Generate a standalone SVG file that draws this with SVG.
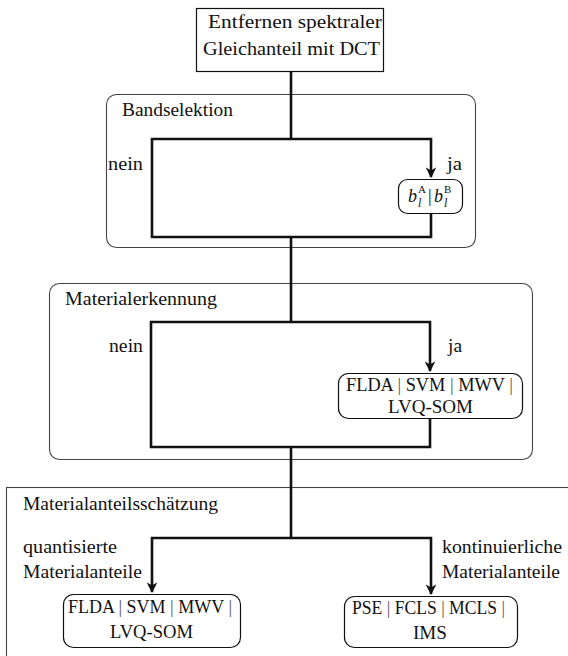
<svg xmlns="http://www.w3.org/2000/svg" width="568" height="656" viewBox="0 0 568 656">
<defs>
<style>
text{font-family:"Liberation Serif","DejaVu Serif",serif;font-size:18px;fill:#111}
.grp{fill:none;stroke:#444;stroke-width:1.1}
.node{fill:#fff;stroke:#111;stroke-width:1.2}
.con{fill:none;stroke:#111;stroke-width:2.6;stroke-linejoin:miter}
.sup{font-size:11px}
.sub{font-size:12px;font-style:italic}
.it{font-style:italic}
.bar{fill:#555}
</style>
<marker id="ah" viewBox="0 0 10 10" refX="9" refY="5" markerWidth="4.2" markerHeight="4.2" orient="auto" markerUnits="strokeWidth">
<path d="M0,0 L10,5 L0,10 L3,5 Z" fill="#111"/>
</marker>
</defs>
<rect width="568" height="656" fill="#fff"/>

<g id="grp-band">
<rect class="grp" x="106.5" y="94.5" width="369" height="153" rx="10"/>
<text x="122" y="116" textLength="111" lengthAdjust="spacingAndGlyphs">Bandselektion</text>
</g>
<g id="grp-mat">
<rect class="grp" x="49.5" y="283.5" width="483" height="176" rx="10"/>
<text x="65" y="305" textLength="152" lengthAdjust="spacingAndGlyphs">Materialerkennung</text>
</g>
<g id="grp-anteil">
<rect class="grp" x="6.5" y="487.5" width="600" height="220"/>
<text x="23" y="510" textLength="195" lengthAdjust="spacingAndGlyphs">Materialanteilsschätzung</text>
</g>

<g id="connectors">
<path class="con" d="M291,71 V139"/>
<path class="con" d="M431,213 V237 H152 V139 H431 V177" marker-end="url(#ah)"/>
<path class="con" d="M291,237 V322"/>
<path class="con" d="M430,418 V447 H151 V322 H430 V371" marker-end="url(#ah)"/>
<path class="con" d="M291,447 V538"/>
<path class="con" d="M291,538 H152 V592" marker-end="url(#ah)"/>
<path class="con" d="M291,538 H431 V594" marker-end="url(#ah)"/>
<text x="108" y="170" textLength="35" lengthAdjust="spacingAndGlyphs">nein</text>
<text x="447" y="170" textLength="15" lengthAdjust="spacingAndGlyphs">ja</text>
<text x="109" y="352" textLength="34" lengthAdjust="spacingAndGlyphs">nein</text>
<text x="448" y="352" textLength="14" lengthAdjust="spacingAndGlyphs">ja</text>
<text x="23" y="553" textLength="94" lengthAdjust="spacingAndGlyphs">quantisierte</text>
<text x="23" y="578" textLength="119" lengthAdjust="spacingAndGlyphs">Materialanteile</text>
<text x="442" y="553" textLength="120" lengthAdjust="spacingAndGlyphs">kontinuierliche</text>
<text x="442" y="578" textLength="118" lengthAdjust="spacingAndGlyphs">Materialanteile</text>
</g>

<g id="node-dct">
<rect class="node" x="196.5" y="8.5" width="187" height="63"/>
<text x="208" y="28" textLength="174" lengthAdjust="spacingAndGlyphs">Entfernen spektraler</text>
<text x="203" y="55" textLength="177" lengthAdjust="spacingAndGlyphs">Gleichanteil mit DCT</text>
</g>

<g id="node-band">
<rect class="node" x="398.5" y="179.5" width="64" height="34" rx="9"/>
<text class="it" x="408" y="202">b</text>
<text class="sup" x="418" y="193">A</text>
<text class="sub" x="418" y="207">l</text>
<text x="428" y="202">|</text>
<text class="it" x="434" y="202">b</text>
<text class="sup" x="444" y="193">B</text>
<text class="sub" x="444" y="207">l</text>
</g>

<g id="node-mat">
<rect class="node" x="338.5" y="373.5" width="184" height="45" rx="10"/>
<text x="346" y="391" textLength="167" lengthAdjust="spacingAndGlyphs">FLDA <tspan class="bar">|</tspan> SVM <tspan class="bar">|</tspan> MWV <tspan class="bar">|</tspan></text>
<text x="388" y="413" textLength="85" lengthAdjust="spacingAndGlyphs">LVQ-SOM</text>
</g>

<g id="node-quant">
<rect class="node" x="63.5" y="594.5" width="177" height="53" rx="10"/>
<text x="68" y="613" textLength="164" lengthAdjust="spacingAndGlyphs">FLDA <tspan class="bar">|</tspan> SVM <tspan class="bar">|</tspan> MWV <tspan class="bar">|</tspan></text>
<text x="110" y="638" textLength="83" lengthAdjust="spacingAndGlyphs">LVQ-SOM</text>
</g>

<g id="node-kont">
<rect class="node" x="344.5" y="596.5" width="173" height="51" rx="10"/>
<text x="352" y="614" textLength="153" lengthAdjust="spacingAndGlyphs">PSE <tspan class="bar">|</tspan> FCLS <tspan class="bar">|</tspan> MCLS <tspan class="bar">|</tspan></text>
<text x="413" y="639" textLength="34" lengthAdjust="spacingAndGlyphs">IMS</text>
</g>
</svg>
